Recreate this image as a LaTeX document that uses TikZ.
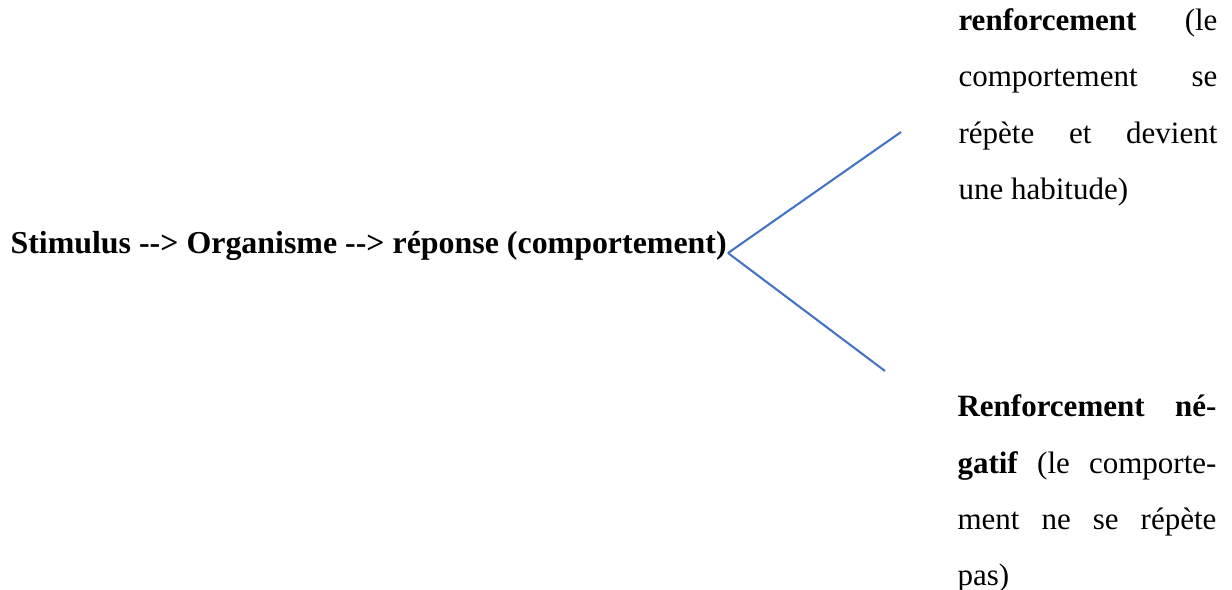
\documentclass[tikz,border=0pt]{standalone}
\usepackage{fontspec}
\setmainfont{Liberation Serif}[Ligatures=TeXOff]
\definecolor{lienbleu}{HTML}{4472C4}
\newcommand{\ligne}[1]{\makebox[\linewidth][s]{#1}}
\tikzset{
  branche/.style={draw=lienbleu, line width=0.8pt},
  bloc/.style={inner sep=0pt, anchor=base west, font=\fontsize{12}{21.8}\selectfont},
}
\begin{document}
\begin{tikzpicture}[x=0.387pt, y=-0.387pt]
\useasboundingbox (0,0) rectangle (1232,589);
\node[inner sep=0pt, anchor=base west, font=\bfseries\fontsize{12.35}{14}\selectfont] (chaine) at (10,253) {Stimulus --> Organisme --> réponse (comportement)};
\coordinate (fourche) at (728,253);
\coordinate (haut) at (901,132);
\coordinate (bas) at (885,371);
\node[bloc] (positif) at (958,30.5) {\parbox[t]{100.2pt}{\ligne{\textbf{renforcement} (le}\\
  \ligne{comportement se}\\
  \ligne{répète et devient}\\
  une habitude)}};
\node[bloc] (negatif) at (957,416.7) {\parbox[t]{100.2pt}{\ligne{\textbf{Renforcement né-}}\\
  \ligne{\textbf{gatif} (le comporte-}\\
  \ligne{ment ne se répète}\\
  pas)}};
\draw[branche] (fourche) -- (haut);
\draw[branche] (fourche) -- (bas);
\end{tikzpicture}
\end{document}
